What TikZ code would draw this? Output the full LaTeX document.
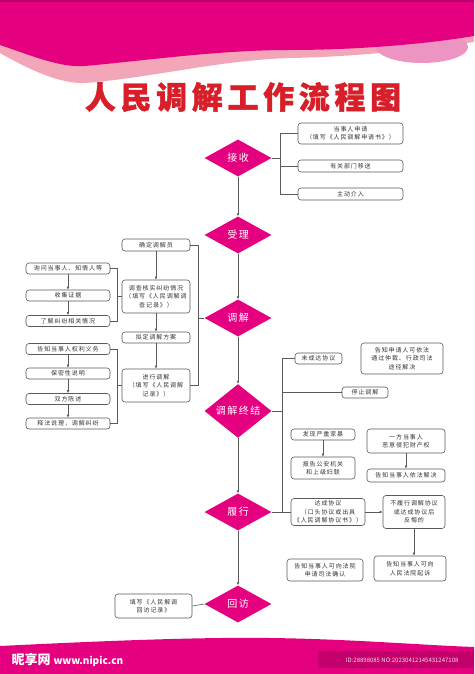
\documentclass[tikz,border=0pt]{standalone}
\usepackage{fontspec}
\setmainfont{Noto Sans CJK SC}
\newfontfamily\boxfont{Noto Sans CJK SC}[LetterSpace=15]
\newfontfamily\titlefont{Noto Sans CJK SC}[LetterSpace=15, BoldFeatures={FakeBold=1.2}]
\usetikzlibrary{arrows.meta, positioning, shapes.geometric}
\definecolor{rosered}{HTML}{E4007F}
\definecolor{lightrose}{HTML}{F3A6B8}
\definecolor{bulgepink}{HTML}{EC94C2}
\definecolor{titlered}{HTML}{D81E28}
\definecolor{linegray}{HTML}{5A5A5A}
\definecolor{textgray}{HTML}{333333}

\begin{document}
\begin{tikzpicture}[x=1pt, y=-1pt,
  box/.style={rectangle, draw=linegray, fill=white, rounded corners=3pt, align=center, text=textgray, font=\boxfont\fontsize{6}{8.5}\selectfont, inner sep=1pt, line width=0.6pt},
  stage/.style={diamond, fill=rosered, text=white, font=\boxfont\fontsize{10}{10}\selectfont, minimum width=67pt, minimum height=37pt, inner sep=0pt},
  conn/.style={draw=linegray, line width=0.55pt},
  arr/.style={conn, -{Latex[length=3pt, width=2.6pt]}}]
\useasboundingbox (0,0) rectangle (474,674);
\fill[white] (0,0) rectangle (474,674);
\fill[lightrose] (0,0) -- (474,0) -- (474,42) .. controls (420,50) and (350,57) .. (290,58) .. controls (220,60) and (150,78) .. (85,83) .. controls (60,84) and (30,70) .. (0,53) -- cycle;
\fill[bulgepink] (422,47) ellipse (46 and 16);
\fill[rosered] (0,0) -- (474,0) -- (474,36) .. controls (420,45) and (350,50) .. (290,50) .. controls (220,50) and (150,60) .. (85,66) .. controls (60,68) and (30,55) .. (0,45) -- cycle;
\fill[rosered!80!black] (0,0) rectangle (474,2);
\fill[rosered] (0,646) .. controls (100,641) and (200,637) .. (270,638) .. controls (350,639) and (420,645) .. (474,647) -- (474,674) -- (0,674) -- cycle;
\fill[rosered!85!black] (318,651) rectangle (474,668);
\node[text=white, font=\bfseries\fontsize{13}{13}\selectfont, anchor=west] (brand) at (8,660) {昵享网 \fontsize{10}{10}\selectfont www.nipic.cn};
\node[text=white!85!rosered, font=\fontsize{6}{6}\selectfont, anchor=east] (serial) at (462,660) {ID:28898085 NO:20230412145431247108};

\node[text=titlered, font=\titlefont\bfseries\fontsize{31}{31}\selectfont] (title) at (243,97) {人民调解工作流程图};

\node[stage] (recv) at (238,158) {接收};
\node[stage] (accept) at (238,235) {受理};
\node[stage] (mediate) at (238,318) {调解};
\node[stage] (close) at (238,411) {调解终结};
\node[stage] (perform) at (238,512) {履行};
\node[stage] (revisit) at (238,604) {回访};

\node[box, minimum width=105pt, minimum height=21pt] (apply) at (350.5,133.5) {当事人申请\\（填写《人民调解申请书》）};
\node[box, minimum width=105pt, minimum height=12pt] (transfer) at (350.5,166) {有关部门移送};
\node[box, minimum width=105pt, minimum height=12pt] (initiative) at (350.5,194) {主动介入};

\node[box, minimum width=68pt, minimum height=12pt] (assign) at (156,245) {确定调解员};
\node[box, minimum width=68pt, minimum height=33pt] (survey) at (156,296.5) {调查核实纠纷情况\\（填写《人民调解调\\查记录》）};
\node[box, minimum width=68pt, minimum height=11pt] (plan) at (156,337.5) {拟定调解方案};
\node[box, minimum width=68pt, minimum height=33pt] (conduct) at (156,385.5) {进行调解\\（填写《人民调解\\记录》）};

\node[box, minimum width=84pt, minimum height=11pt] (ask) at (68,268.5) {询问当事人、知情人等};
\node[box, minimum width=84pt, minimum height=11pt] (evidence) at (68,295.5) {收集证据};
\node[box, minimum width=84pt, minimum height=11pt] (facts) at (68,321) {了解纠纷相关情况};
\node[box, minimum width=84pt, minimum height=11pt] (inform) at (68,349) {告知当事人权利义务};
\node[box, minimum width=84pt, minimum height=11pt] (secrecy) at (68,373.5) {保密性说明};
\node[box, minimum width=84pt, minimum height=11pt] (state) at (68,399) {双方陈述};
\node[box, minimum width=84pt, minimum height=11pt] (explain) at (68,423.5) {释法说理，调解纠纷};

\node[box, minimum width=47pt, minimum height=11pt] (fail) at (318.5,358.5) {未成达协议};
\node[box, minimum width=82pt, minimum height=31pt] (notify) at (402,358.5) {告知申请人可依法\\通过仲裁、行政司法\\途径解决};
\node[box, minimum width=46pt, minimum height=11pt] (stop) at (365,392.5) {停止调解};
\node[box, minimum width=64pt, minimum height=11pt] (abuse) at (323,434.5) {发现严重家暴};
\node[box, minimum width=64pt, minimum height=22pt] (police) at (323,468) {报告公安机关\\和上级妇联};
\node[box, minimum width=78pt, minimum height=24pt] (property) at (406,441) {一方当事人\\恶意侵犯财产权};
\node[box, minimum width=78pt, minimum height=13pt] (tellparty) at (406,475.5) {告知当事人依法解决};
\node[box, minimum width=74pt, minimum height=27pt] (agree) at (328,512) {达成协议\\（口头协议或出具\\《人民调解协议书》）};
\node[box, minimum width=62pt, minimum height=33pt] (breach) at (414,512) {不履行调解协议\\或达成协议后\\反悔的};
\node[box, minimum width=72pt, minimum height=25pt] (court) at (410,568.5) {告知当事人可向\\人民法院起诉};
\node[box, minimum width=76pt, minimum height=22pt] (confirm) at (325,570) {告知当事人可向法院\\申请司法确认};
\node[box, minimum width=77pt, minimum height=24pt] (record) at (153.5,606) {填写《人民解调\\回访记录》};

\coordinate (recvbus) at (280,158);
\coordinate (medbus) at (198,318);
\coordinate (askbus) at (117,296.5);
\coordinate (informbus) at (117,385.5);
\coordinate (closebus) at (282,411);

\draw[arr] (recv) -- (accept);
\draw[arr] (accept) -- (mediate);
\draw[arr] (mediate) -- (close);
\draw[arr] (close) -- (perform);
\draw[arr] (perform) -- (revisit);

\draw[conn] (recv.east) -- (recvbus);
\draw[conn] (apply.west) -| (recvbus);
\draw[conn] (initiative.west) -| (recvbus);
\draw[conn] (transfer.west) -- (transfer.west -| recvbus);

\draw[conn] (mediate.west) -- (medbus);
\draw[conn] (assign.east) -| (medbus);
\draw[conn] (conduct.east) -| (medbus);
\draw[arr] (assign) -- (survey);
\draw[arr] (survey) -- (plan);
\draw[arr] (plan) -- (conduct);

\draw[arr] (ask) -- (evidence);
\draw[arr] (evidence) -- (facts);
\draw[conn] (survey.west) -- (askbus);
\draw[conn] (ask.east) -| (askbus);
\draw[conn] (facts.east) -| (askbus);

\draw[arr] (inform) -- (secrecy);
\draw[arr] (secrecy) -- (state);
\draw[arr] (state) -- (explain);
\draw[conn] (conduct.west) -- (informbus);
\draw[conn] (inform.east) -| (informbus);
\draw[conn] (explain.east) -| (informbus);

\draw[conn] (close.east) -- (closebus);
\draw[conn] (fail.west) -| (closebus);
\draw[conn] (stop.west) -- (stop.west -| closebus);
\draw[conn] (closebus) -- (closebus |- agree.west);
\draw[conn] (perform.east) -- (agree.west);
\draw[arr] (abuse) -- (police);
\draw[arr] (property) -- (tellparty);
\draw[arr] (agree) -- (breach);
\draw[arr] (breach.south) -- (breach.south |- court.north);
\draw[conn] (revisit.west) -- (record.east);
\end{tikzpicture}
\end{document}
